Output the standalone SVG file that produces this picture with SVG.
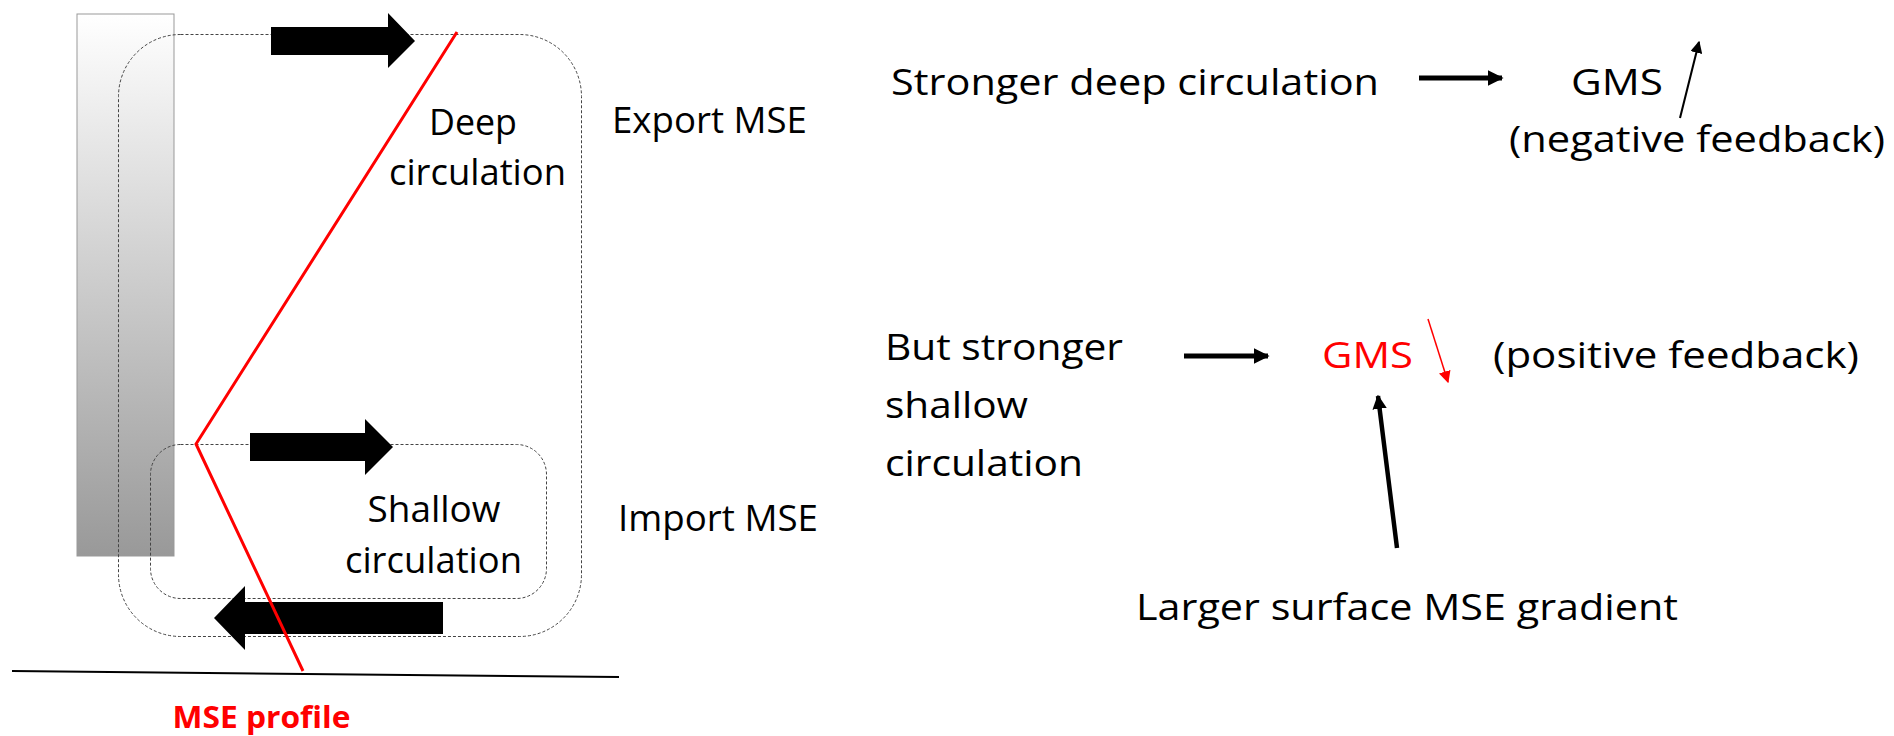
<svg xmlns="http://www.w3.org/2000/svg" width="1894" height="736" viewBox="0 0 1894 736">
<style>
text{font-family:"Open Sans","Noto Sans",sans-serif;font-size:36px;fill:#000}
.red{fill:#ff0000}
.bold{font-weight:bold;font-size:31px}
.dash{fill:none;stroke:#444;stroke-width:1;stroke-dasharray:3 2}
.blk{fill:#000}
.conn{stroke:#000;fill:none}
</style>
<defs>
<linearGradient id="gr" x1="0" y1="0" x2="0" y2="1">
<stop offset="0" stop-color="#ffffff"/>
<stop offset="1" stop-color="#999999"/>
</linearGradient>
<marker id="ah" viewBox="0 0 10 10" refX="9" refY="5" markerWidth="3.2" markerHeight="3.2" orient="auto" markerUnits="strokeWidth">
<path d="M0,0 L10,5 L0,10 z" fill="#000"/>
</marker>
<marker id="ahs" viewBox="0 0 10 10" refX="9" refY="5" markerWidth="6" markerHeight="6" orient="auto" markerUnits="strokeWidth">
<path d="M0,0 L10,5 L0,10 z" fill="#000"/>
</marker>
<marker id="ahr" viewBox="0 0 10 10" refX="9" refY="5" markerWidth="8" markerHeight="8" orient="auto" markerUnits="strokeWidth">
<path d="M0,0 L10,5 L0,10 z" fill="#ff0000"/>
</marker>
</defs>

<g id="column">
<rect x="77" y="14" width="97" height="542" fill="url(#gr)" stroke="#999" stroke-width="1"/>
</g>

<g id="deep-loop">
<rect class="dash" x="118.5" y="34.5" width="463" height="602" rx="62" ry="62"/>
</g>
<g id="shallow-loop">
<rect class="dash" x="150.5" y="444.5" width="396" height="154" rx="30" ry="30"/>
</g>

<g id="arrow-top">
<polygon class="blk" points="271,27 388,27 388,13 415,41 388,68 388,55 271,55"/>
</g>
<g id="arrow-shallow">
<polygon class="blk" points="250,433 365,433 365,419 393,447 365,475 365,461 250,461"/>
</g>
<g id="arrow-bottom">
<polygon class="blk" points="443,602 245,602 245,586 214,618 245,650 245,634 443,634"/>
</g>

<g id="mse-profile-line">
<polyline points="457,32 196,444 303,671" fill="none" stroke="#ff0000" stroke-width="3"/>
</g>
<g id="ground">
<line x1="12" y1="671" x2="619" y2="677" stroke="#000" stroke-width="2"/>
</g>

<g id="labels-left">
<text x="473" y="135" text-anchor="middle" textLength="88" lengthAdjust="spacingAndGlyphs">Deep</text>
<text x="477.5" y="185" text-anchor="middle" textLength="177" lengthAdjust="spacingAndGlyphs">circulation</text>
<text x="612" y="133" textLength="195" lengthAdjust="spacingAndGlyphs">Export MSE</text>
<text x="618" y="531" textLength="200" lengthAdjust="spacingAndGlyphs">Import MSE</text>
<text x="434" y="522" text-anchor="middle" textLength="133" lengthAdjust="spacingAndGlyphs">Shallow</text>
<text x="433.5" y="573" text-anchor="middle" textLength="177" lengthAdjust="spacingAndGlyphs">circulation</text>
<text class="red bold" x="261.5" y="728" text-anchor="middle" textLength="178" lengthAdjust="spacingAndGlyphs">MSE profile</text>
</g>

<g id="node-stronger-deep">
<text x="891" y="95" textLength="488" lengthAdjust="spacingAndGlyphs">Stronger deep circulation</text>
</g>
<g id="node-gms-up">
<text x="1571" y="95" textLength="92" lengthAdjust="spacingAndGlyphs">GMS</text>
<text x="1509" y="152" textLength="376" lengthAdjust="spacingAndGlyphs">(negative feedback)</text>
</g>
<g id="node-shallow">
<text x="885" y="360" textLength="238" lengthAdjust="spacingAndGlyphs">But stronger</text>
<text x="885" y="418" textLength="143" lengthAdjust="spacingAndGlyphs">shallow</text>
<text x="885" y="476" textLength="198" lengthAdjust="spacingAndGlyphs">circulation</text>
</g>
<g id="node-gms-down">
<text class="red" x="1322" y="368" textLength="91" lengthAdjust="spacingAndGlyphs">GMS</text>
<text x="1493" y="368" textLength="366" lengthAdjust="spacingAndGlyphs">(positive feedback)</text>
</g>
<g id="node-gradient">
<text x="1136" y="620" textLength="542" lengthAdjust="spacingAndGlyphs">Larger surface MSE gradient</text>
</g>

<g id="connectors">
<line class="conn" x1="1419" y1="78" x2="1502" y2="78" stroke-width="5" marker-end="url(#ah)"/>
<line class="conn" x1="1680" y1="118" x2="1699" y2="42" stroke-width="2" marker-end="url(#ahs)"/>
<line class="conn" x1="1184" y1="356" x2="1268" y2="356" stroke-width="5" marker-end="url(#ah)"/>
<line x1="1428" y1="319" x2="1448" y2="382" stroke="#ff0000" stroke-width="1.5" marker-end="url(#ahr)"/>
<line class="conn" x1="1397" y1="548" x2="1378" y2="396" stroke-width="4.5" marker-end="url(#ah)"/>
</g>
</svg>
